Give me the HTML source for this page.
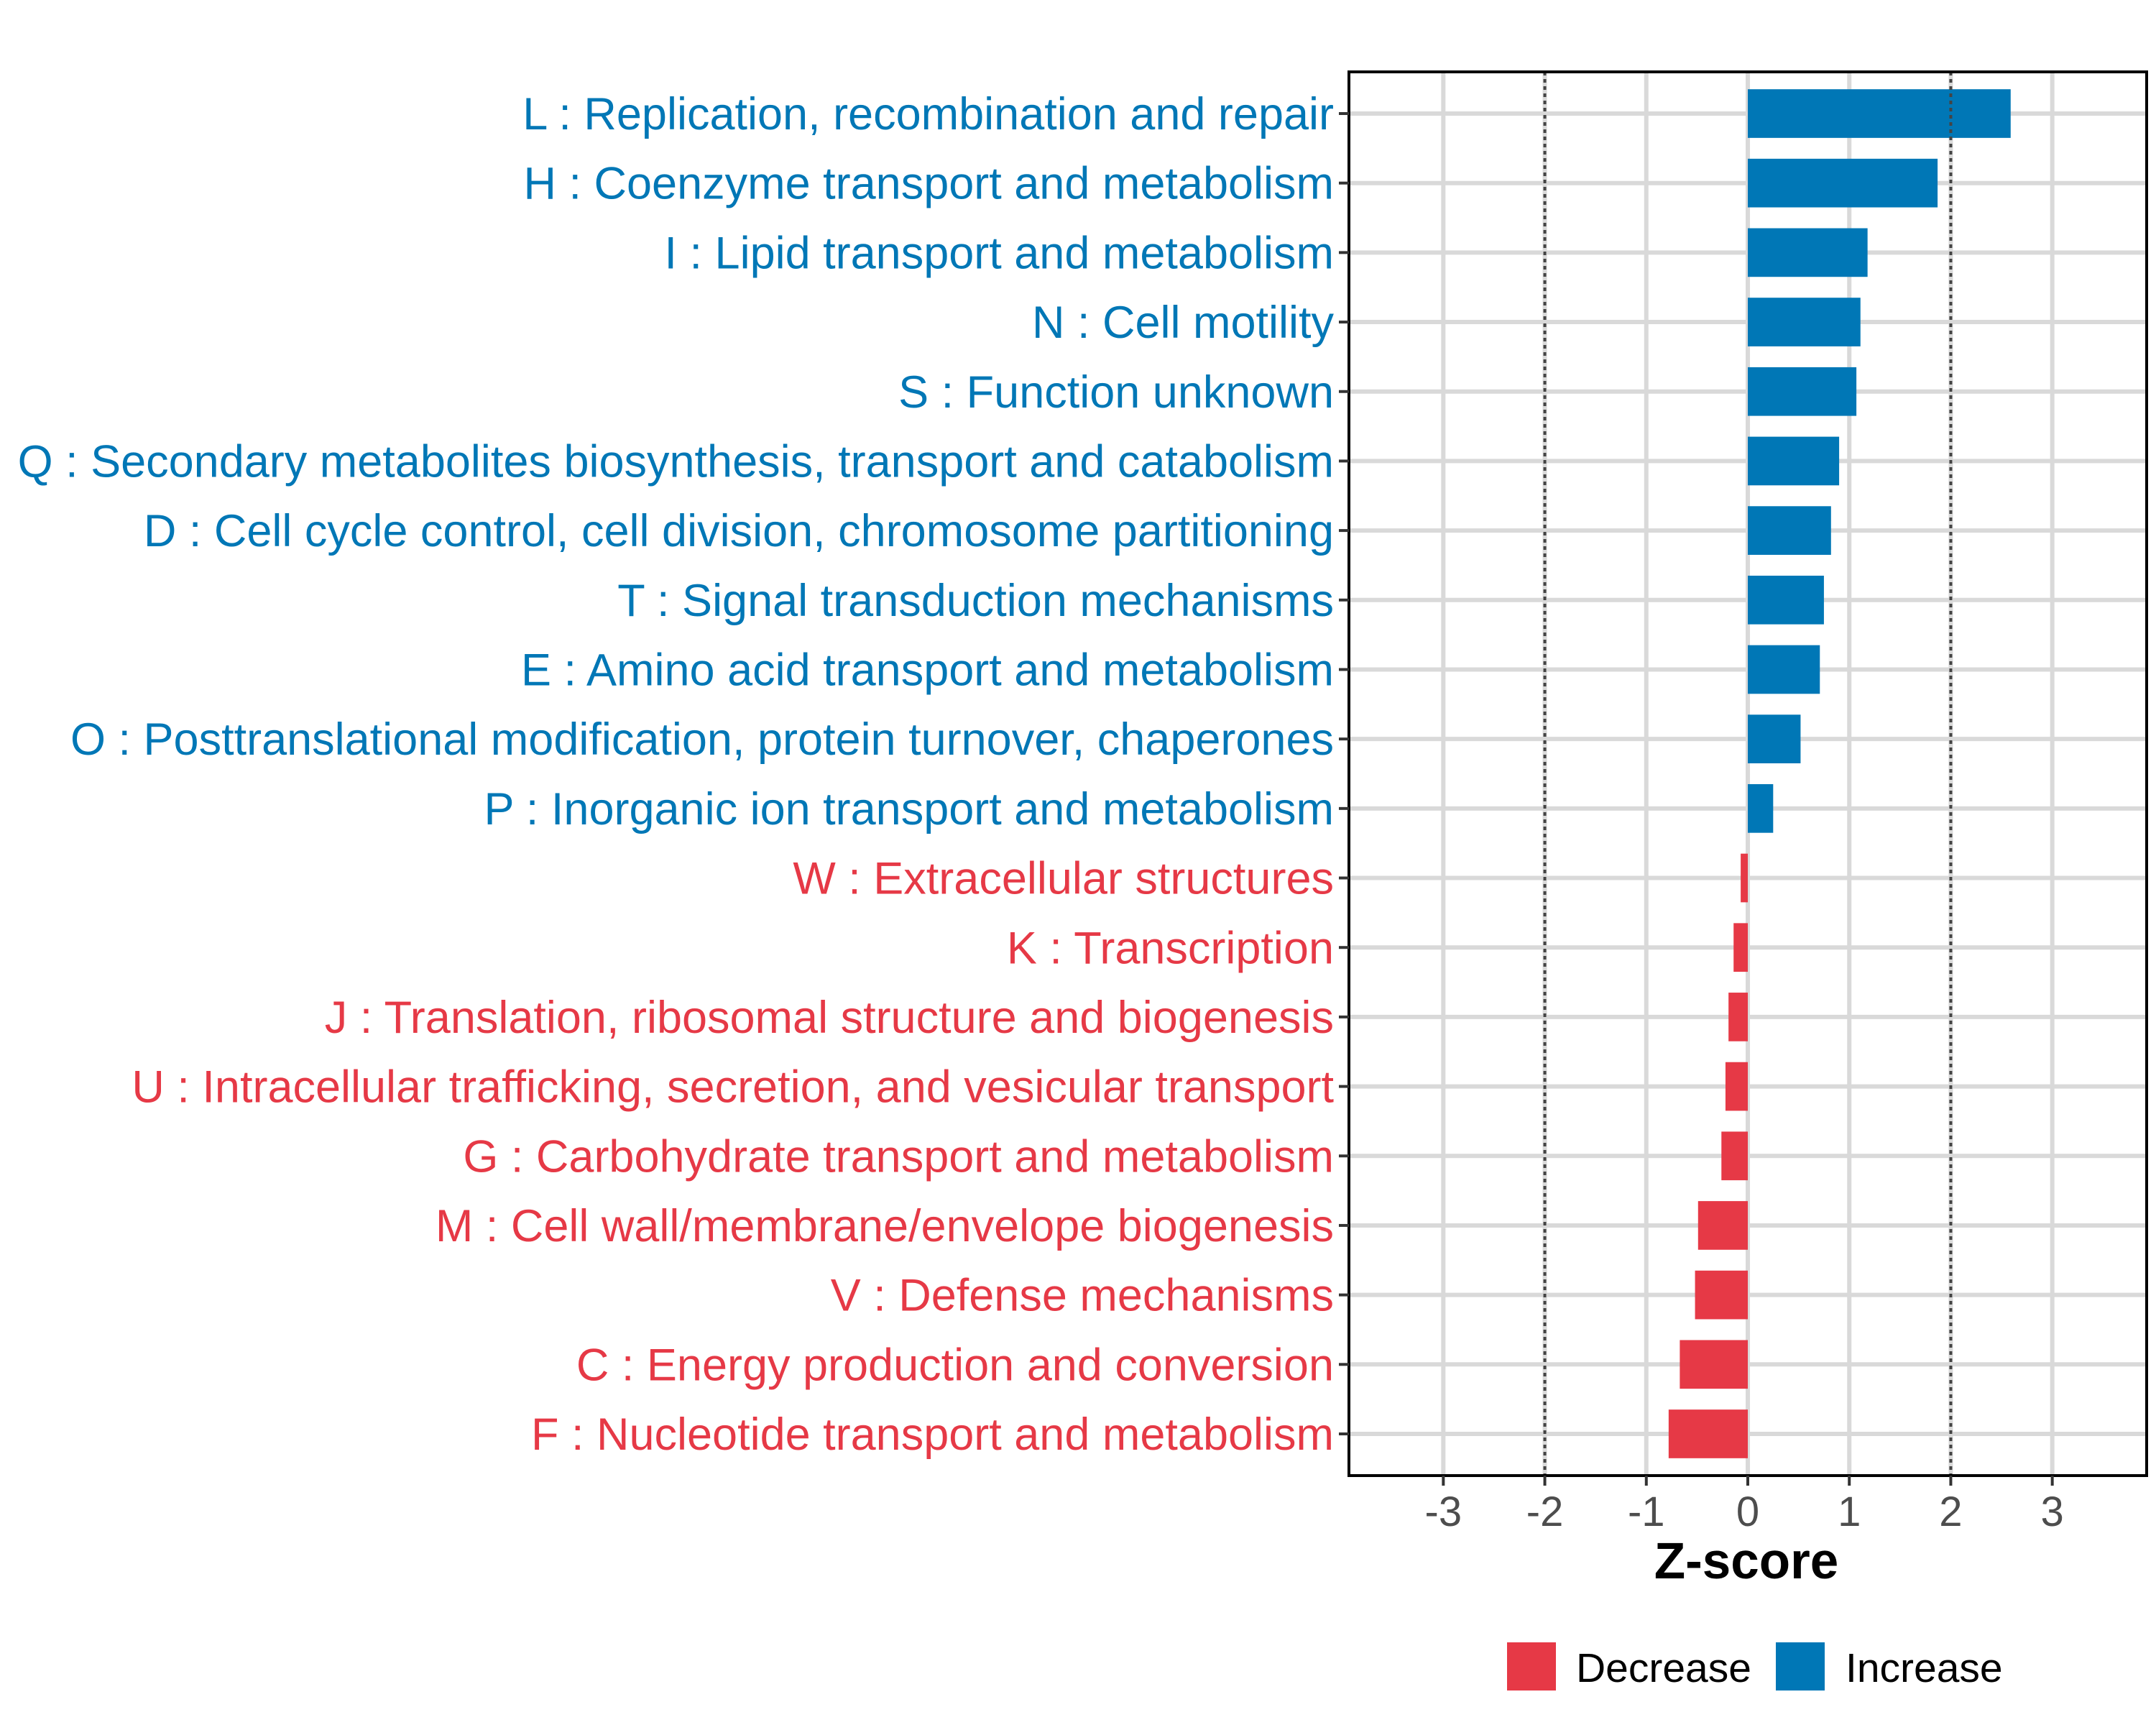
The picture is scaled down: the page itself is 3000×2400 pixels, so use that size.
<!DOCTYPE html>
<html><head><meta charset="utf-8"><style>
html,body{margin:0;padding:0;background:#fff;}
svg{display:block;font-family:"Liberation Sans",Arial,sans-serif;}
</style></head><body>
<svg id="chart" width="3000" height="2400" viewBox="0 0 3000 2400" xmlns="http://www.w3.org/2000/svg">
<rect width="3000" height="2400" fill="#fff"/>
<g id="grid"></g>
<g id="bars"></g>
<g id="refs"></g>
<rect x="1877" y="100" width="1110" height="1953" fill="none" stroke="#000" stroke-width="4"/>
<g id="yaxis"></g>
<g id="xaxis"></g>
<text x="2430" y="2196" text-anchor="middle" font-size="71" font-weight="bold" fill="#000">Z-score</text>
<g>
<rect x="2097" y="2285" width="68" height="67" fill="#E63946"/>
<text x="2193" y="2340" font-size="57" fill="#000">Decrease</text>
<rect x="2471" y="2285" width="68" height="67" fill="#0077B6"/>
<text x="2568" y="2340" font-size="57" fill="#000">Increase</text>
</g>
</svg>
<script>
const categories = [
"L : Replication, recombination and repair",
"H : Coenzyme transport and metabolism",
"I : Lipid transport and metabolism",
"N : Cell motility",
"S : Function unknown",
"Q : Secondary metabolites biosynthesis, transport and catabolism",
"D : Cell cycle control, cell division, chromosome partitioning",
"T : Signal transduction mechanisms",
"E : Amino acid transport and metabolism",
"O : Posttranslational modification, protein turnover, chaperones",
"P : Inorganic ion transport and metabolism",
"W : Extracellular structures",
"K : Transcription",
"J : Translation, ribosomal structure and biogenesis",
"U : Intracellular trafficking, secretion, and vesicular transport",
"G : Carbohydrate transport and metabolism",
"M : Cell wall/membrane/envelope biogenesis",
"V : Defense mechanisms",
"C : Energy production and conversion",
"F : Nucleotide transport and metabolism"];
const zscores = [2.59,1.87,1.18,1.11,1.07,0.90,0.82,0.75,0.71,0.52,0.25,-0.07,-0.14,-0.19,-0.22,-0.26,-0.49,-0.52,-0.67,-0.78];
const xTicks = [-3,-2,-1,0,1,2,3];
const xTickLabels = ["-3","-2","-1","0","1","2","3"];
const refLines = [-2,2];

const NS="http://www.w3.org/2000/svg";
const PL=1877,PR=2987,PT=100,PB=2053;
const XMIN=-3.93,XMAX=3.93;
const xs=v=>PL+(v-XMIN)/(XMAX-XMIN)*(PR-PL);
const n=categories.length;
const step=(PB-PT)/(n-1+1.2);
const ys=i=>PT+step*0.6+i*step;
function mk(tag,attrs,parent){const e=document.createElementNS(NS,tag);for(const k in attrs)e.setAttribute(k,attrs[k]);parent.appendChild(e);return e;}
const grid=document.getElementById('grid'),bars=document.getElementById('bars'),refs=document.getElementById('refs'),yaxis=document.getElementById('yaxis'),xaxis=document.getElementById('xaxis');
xTicks.forEach((t,i)=>{
  const g=mk('line',{x1:xs(t),x2:xs(t),y1:PT,y2:PB,stroke:'#d9d9d9','stroke-width':6},grid);
  
  
  const tk=mk('line',{x1:xs(t),x2:xs(t),y1:PB,y2:PB+14,stroke:'#333','stroke-width':4},xaxis);
  
  
  const tl=mk('text',{x:xs(t),y:PB+70,'text-anchor':'middle','font-size':58,fill:'#4d4d4d'},xaxis);
  tl.textContent=xTickLabels[i];
  
  
});
const labels=[];
categories.forEach((c,i)=>{
  const y=ys(i);
  const g=mk('line',{x1:PL,x2:PR,y1:y,y2:y,stroke:'#d9d9d9','stroke-width':6},grid);
  
  
  const v=zscores[i];
  const col=v>=0?'#0077B6':'#E63946';
  const h=step*0.7;
  const b=mk('rect',{x:Math.min(xs(0),xs(v)),y:y-h/2,width:Math.abs(xs(v)-xs(0)),height:h,fill:col},bars);
  
  
  const tk=mk('line',{x1:PL-14,x2:PL,y1:y,y2:y,stroke:'#333','stroke-width':4},yaxis);
  
  
  const t=mk('text',{x:1856,y:y+21,'text-anchor':'end','font-size':60,fill:col},yaxis);
  t.textContent=c;
  
  
  labels.push(t);
});
refLines.forEach(r=>{
  const l=mk('line',{x1:xs(r),x2:xs(r),y1:PT,y2:PB,stroke:'#444','stroke-width':4,'stroke-dasharray':'5 5'},refs);
  
  
});
try{
  const w=labels[5].getComputedTextLength();
  if(w>0){const fs=60*1832/w;labels.forEach(t=>{t.setAttribute('font-size',fs.toFixed(1));t.setAttribute('y',(parseFloat(t.getAttribute('y'))-21+fs*0.35).toFixed(1));});}
}catch(e){}
</script>
</body></html>
